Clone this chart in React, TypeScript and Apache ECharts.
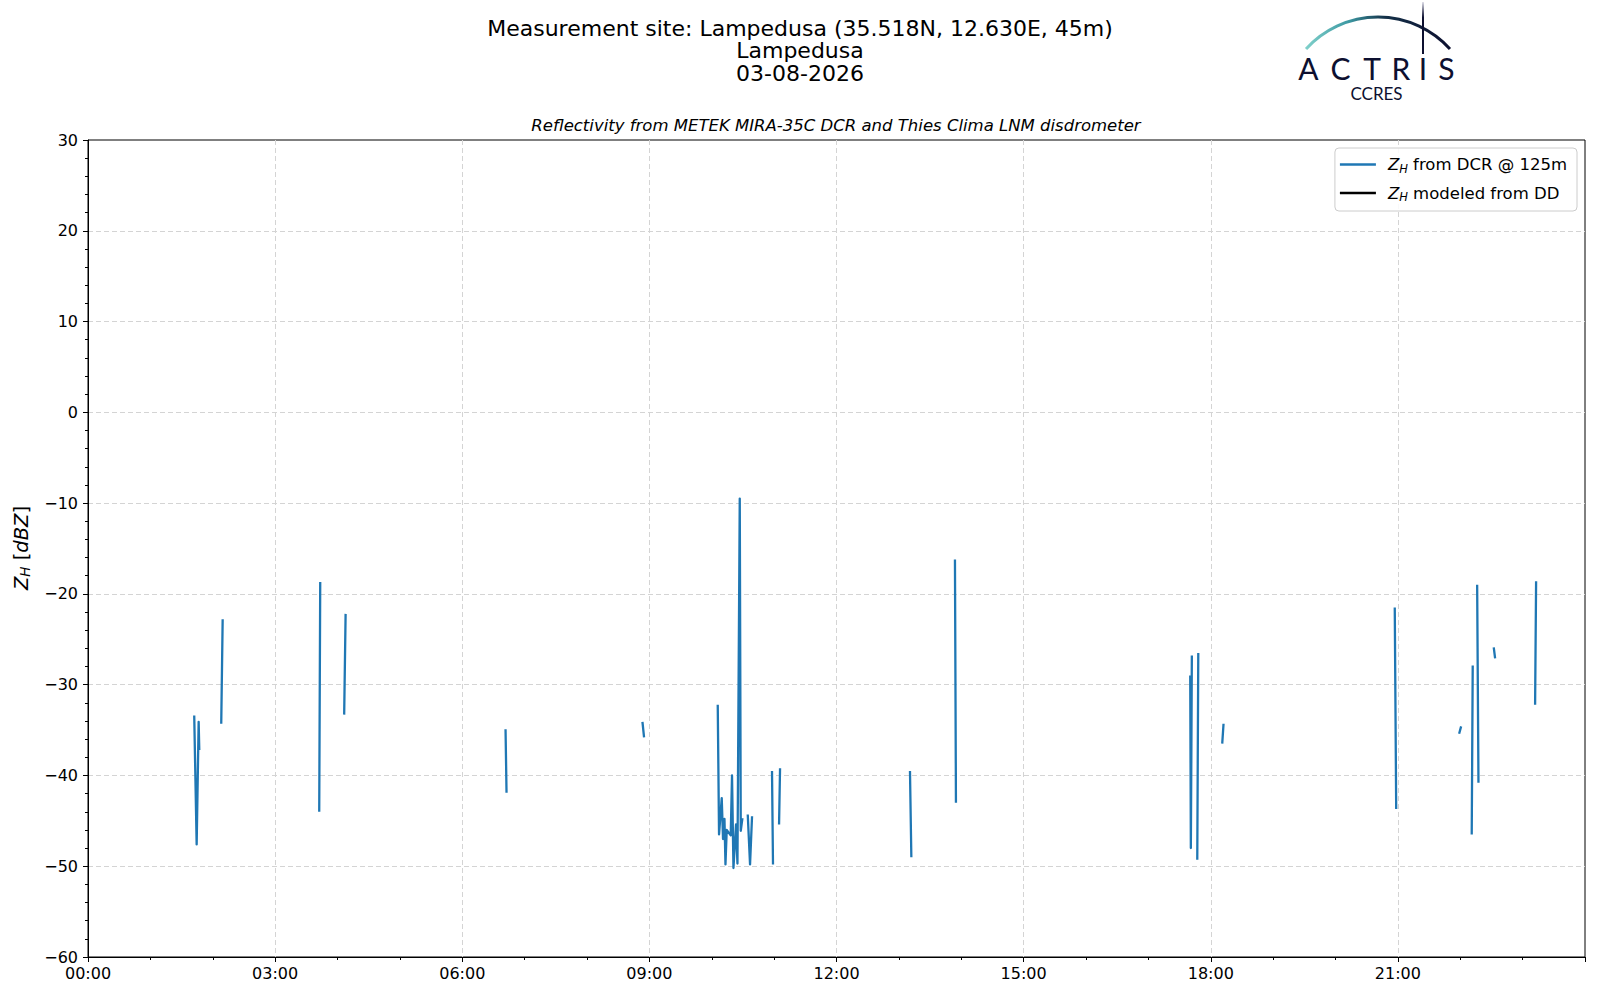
import React, { useEffect, useRef } from "react";
import * as echarts from "echarts";

// Time of day in decimal hours (null marks a gap in the record)
const timeH: (number | null)[] = [
  1.703, 1.742, 1.774, 1.784, null,
  2.136, 2.159, null,
  3.707, 3.723, null,
  4.107, 4.13, null,
  6.694, 6.71, null,
  8.889, 8.915, null,
  10.096, 10.117, 10.16, 10.181, 10.204, 10.22, 10.24, 10.304, 10.325, 10.348, 10.389, 10.412, 10.449, 10.465, 10.492, null,
  10.577, 10.614, 10.646, null,
  10.966, 10.982, null,
  11.079, 11.095, null,
  13.178, 13.2, null,
  13.899, 13.915, null,
  17.671, 17.681, 17.697, null,
  17.784, 17.8, null,
  18.184, 18.205, null,
  20.95, 20.973, null,
  21.982, 22.014, null,
  22.184, 22.2, null,
  22.271, 22.292, null,
  22.537, 22.559, null,
  23.2, 23.216,
];

// Z_H from DCR @ 125 m [dBZ]
const zhDcr: (number | null)[] = [
  -33.4, -47.6, -34.1, -37.2, null,
  -34.3, -22.8, null,
  -44.0, -18.7, null,
  -33.3, -22.2, null,
  -34.9, -41.9, null,
  -34.1, -35.8, null,
  -32.2, -46.5, -42.5, -47.0, -44.8, -49.8, -46.0, -46.6, -40.0, -50.2, -45.4, -49.7, -9.5, -46.1, -44.7, null,
  -44.3, -49.8, -44.5, null,
  -39.5, -49.8, null,
  -45.4, -39.2, null,
  -39.5, -49.0, null,
  -16.2, -43.0, null,
  -29.0, -48.0, -26.8, null,
  -49.3, -26.5, null,
  -36.5, -34.3, null,
  -21.5, -43.7, null,
  -35.4, -34.6, null,
  -46.5, -27.9, null,
  -19.0, -40.8, null,
  -25.9, -27.1, null,
  -32.2, -18.6,
];

// Z_H modeled from DD (no data on this day)
const zhDd: [number, number][] = [];

const seriesNames = ["Z_H from DCR @ 125m", "Z_H modeled from DD"];
const legendLabels: Record<string, string> = {
  "Z_H from DCR @ 125m": "{i|Z}{s|H}{n| from DCR @ 125m}",
  "Z_H modeled from DD": "{i|Z}{s|H}{n| modeled from DD}",
};
const titleLines = ["Measurement site: Lampedusa (35.518N, 12.630E, 45m)", "Lampedusa", "03-08-2026"];
const subTitle = "Reflectivity from METEK MIRA-35C DCR and Thies Clima LNM disdrometer";
const logoLetters = ["A", "C", "T", "R", "I", "S"];
const logoLetterX = [1308.5, 1340.5, 1372, 1401, 1423, 1446.5];

const FONT = "DejaVu Sans";
const NAVY = "#0d1030";

export default function App() {
  const ref = useRef<HTMLDivElement>(null);

  useEffect(() => {
    if (!ref.current) return;
    const chart = echarts.init(ref.current, undefined, { renderer: "svg" });

    const dcrData = timeH.map((t, i) =>
      t === null || zhDcr[i] === null ? ["-", "-"] : [t, zhDcr[i]]
    );

    const richSmall = {
      i: { fontStyle: "italic", fontSize: 16.5, fontFamily: FONT, color: "#000", lineHeight: 20 },
      s: { fontStyle: "italic", fontSize: 11.5, fontFamily: FONT, color: "#000", lineHeight: 10, verticalAlign: "bottom" },
      n: { fontSize: 16.5, fontFamily: FONT, color: "#000", lineHeight: 20 },
    };

    const letterEls = logoLetters.map((ch, k) => ({
      type: "text",
      x: logoLetterX[k],
      y: 68,
      style: {
        text: ch,
        font: "400 30px Lato",
        lineHeight: 22,
        fill: NAVY,
        align: "center",
        verticalAlign: "middle",
      },
    }));

    const option: any = {
      animation: false,
      backgroundColor: "#fff",
      title: {
        text: titleLines.join("\n"),
        left: "center",
        top: 17,
        padding: 0,
        textStyle: {
          fontFamily: FONT,
          fontSize: 22,
          fontWeight: "normal",
          color: "#000",
          lineHeight: 22.5,
        },
      },
      grid: {
        left: 88,
        right: 15,
        top: 140,
        bottom: 43,
        show: true,
        borderColor: "#000",
        borderWidth: 1,
        backgroundColor: "transparent",
      },
      legend: {
        orient: "vertical",
        right: 23,
        top: 148,
        padding: [8, 10, 8, 5],
        itemGap: 10,
        itemWidth: 36,
        itemHeight: 2.5,
        icon: "rect",
        borderColor: "#cccccc",
        borderWidth: 1,
        borderRadius: 4,
        backgroundColor: "rgba(255,255,255,0.85)",
        data: seriesNames,
        formatter: (name: string) => legendLabels[name] || name,
        textStyle: {
          fontFamily: FONT,
          fontSize: 16.5,
          color: "#000",
          padding: [0, 0, 0, 7],
          rich: richSmall,
        },
      },
      xAxis: {
        type: "value",
        min: 0,
        max: 24,
        interval: 3,
        axisLine: { show: true, onZero: false, lineStyle: { color: "#000", width: 1 } },
        axisTick: { show: true, length: 5, lineStyle: { color: "#000" } },
        minorTick: { show: true, splitNumber: 3, length: 3, lineStyle: { color: "#000" } },
        axisLabel: {
          color: "#000",
          fontFamily: FONT,
          fontSize: 16,
          lineHeight: 16,
          margin: 8,
          showMaxLabel: false,
          formatter: (v: number) => String(Math.round(v)).padStart(2, "0") + ":00",
        },
        splitLine: {
          show: true,
          showMinLine: false,
          showMaxLine: false,
          lineStyle: { color: "#d4d4d4", type: [5, 3], width: 1 },
        },
      },
      yAxis: {
        type: "value",
        min: -60,
        max: 30,
        interval: 10,
        axisLine: { show: true, onZero: false, lineStyle: { color: "#000", width: 1 } },
        axisTick: { show: true, length: 5, lineStyle: { color: "#000" } },
        minorTick: { show: true, splitNumber: 5, length: 3, lineStyle: { color: "#000" } },
        axisLabel: {
          color: "#000",
          fontFamily: FONT,
          fontSize: 16,
          lineHeight: 16,
          margin: 10,
          formatter: (v: number) => (v < 0 ? "\u2212" + Math.abs(v) : String(v)),
        },
        splitLine: {
          show: true,
          showMinLine: false,
          showMaxLine: false,
          lineStyle: { color: "#d4d4d4", type: [5, 3], width: 1 },
        },
      },
      series: [
        {
          name: seriesNames[0],
          type: "line",
          data: dcrData,
          showSymbol: false,
          symbol: "none",
          connectNulls: false,
          color: "#1f77b4",
          lineStyle: { color: "#1f77b4", width: 2.3, join: "round" },
        },
        {
          name: seriesNames[1],
          type: "line",
          data: zhDd,
          showSymbol: false,
          symbol: "none",
          color: "#000",
          lineStyle: { color: "#000", width: 2.3 },
        },
      ],
      graphic: [
        {
          type: "text",
          x: 836,
          y: 125.5,
          style: {
            text: subTitle,
            font: `italic 16.5px '${FONT}'`,
            fill: "#000",
            align: "center",
            verticalAlign: "middle",
          },
        },
        {
          type: "text",
          x: 21,
          y: 548,
          rotation: Math.PI / 2,
          style: {
            text: "{i|Z}{s|H}{n| [}{i|dBZ}{n|]}",
            align: "center",
            verticalAlign: "middle",
            rich: {
              i: { fontStyle: "italic", fontSize: 19.5, fontFamily: FONT, fill: "#000", lineHeight: 22 },
              s: { fontStyle: "italic", fontSize: 13.5, fontFamily: FONT, fill: "#000", lineHeight: 11, verticalAlign: "bottom" },
              n: { fontSize: 19.5, fontFamily: FONT, fill: "#000", lineHeight: 22 },
            },
          },
        },
        // ACTRIS logo
        {
          type: "arc",
          shape: {
            cx: 1378,
            cy: 114,
            r: 97,
            startAngle: -Math.PI / 2 - 0.836,
            endAngle: -Math.PI / 2 + 0.836,
            clockwise: true,
          },
          style: {
            fill: "none",
            lineWidth: 3,
            stroke: new echarts.graphic.LinearGradient(1306, 0, 1450, 0, [
              { offset: 0, color: "#7fd0ca" },
              { offset: 0.3, color: "#3c98a2" },
              { offset: 0.55, color: "#143048" },
              { offset: 1, color: NAVY },
            ], true),
          },
        },
        {
          type: "line",
          shape: { x1: 1423, y1: 2, x2: 1423, y2: 54 },
          style: {
            lineWidth: 2,
            stroke: new echarts.graphic.LinearGradient(0, 2, 0, 54, [
              { offset: 0, color: "#e0e0ea" },
              { offset: 0.3, color: NAVY },
              { offset: 1, color: NAVY },
            ], true),
          },
        },
        ...letterEls,
        {
          type: "text",
          x: 1376.5,
          y: 93,
          style: {
            text: "CCRES",
            font: "400 17px Lato",
            lineHeight: 14,
            fill: NAVY,
            align: "center",
            verticalAlign: "middle",
          },
        },
      ],
    };

    chart.setOption(option);
    return () => chart.dispose();
  }, []);

  return (
    <div
      ref={ref}
      style={{ position: "absolute", left: 0, top: 0, width: 1600, height: 1000 }}
    />
  );
}
